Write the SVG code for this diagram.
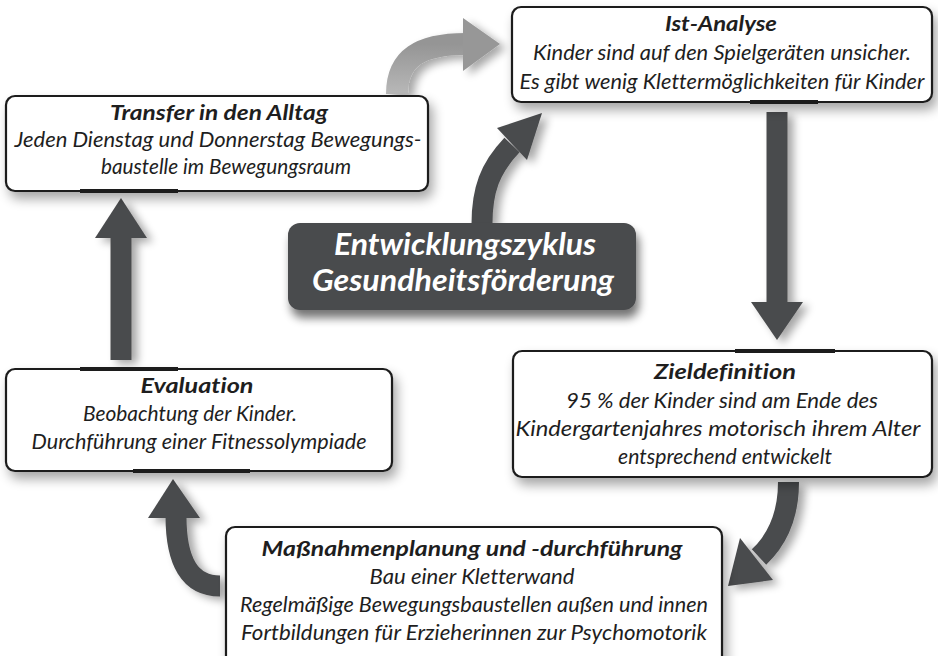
<svg xmlns="http://www.w3.org/2000/svg" width="938" height="656" viewBox="0 0 938 656">
<defs>
<style>
.box{fill:#ffffff;stroke:#1c1c1c;stroke-width:2.2}
.thick{fill:#1c1c1c}
.t{font-family:Lato,"Liberation Sans",sans-serif;font-style:italic;font-size:21px;fill:#1e1e1e;text-anchor:middle;font-variant-ligatures:none;font-feature-settings:"liga" 0,"clig" 0}
.h{font-weight:bold}
.c{font-family:Lato,"Liberation Sans",sans-serif;font-style:italic;font-weight:bold;font-size:30px;fill:#ffffff;text-anchor:middle;font-variant-ligatures:none;font-feature-settings:"liga" 0,"clig" 0}
.ah{fill:#4a4b4d}
.as{fill:none;stroke:#4a4b4d;stroke-width:21;stroke-linecap:butt}
</style>
<linearGradient id="gray" x1="0" y1="1" x2="0" y2="0">
<stop offset="0" stop-color="#b8b8b8"/>
<stop offset="1" stop-color="#959595"/>
</linearGradient>
<filter id="bsh" x="-10%" y="-20%" width="125%" height="150%">
<feGaussianBlur in="SourceAlpha" stdDeviation="6"/>
<feOffset dx="4" dy="7"/>
<feComponentTransfer><feFuncA type="linear" slope="0.35"/></feComponentTransfer>
<feMerge><feMergeNode/><feMergeNode in="SourceGraphic"/></feMerge>
</filter>
<filter id="ash" x="-40%" y="-20%" width="180%" height="150%">
<feGaussianBlur in="SourceAlpha" stdDeviation="4"/>
<feOffset dx="6" dy="4"/>
<feComponentTransfer><feFuncA type="linear" slope="0.35"/></feComponentTransfer>
<feMerge><feMergeNode/><feMergeNode in="SourceGraphic"/></feMerge>
</filter>
<filter id="csh" x="-10%" y="-20%" width="125%" height="160%">
<feGaussianBlur in="SourceAlpha" stdDeviation="5"/>
<feOffset dx="3" dy="8"/>
<feComponentTransfer><feFuncA type="linear" slope="0.55"/></feComponentTransfer>
<feMerge><feMergeNode/><feMergeNode in="SourceGraphic"/></feMerge>
</filter>
</defs>
<rect width="938" height="656" fill="#ffffff"/>

<g id="connectors">
  <g id="arrow-transfer-ist" filter="url(#ash)">
    <path d="M 397 94 C 397 58 420 44 466 44" fill="none" stroke="url(#gray)" stroke-width="22"/>
    <polygon points="463,18 463,71 500,44" fill="#979797"/>
  </g>
  <g id="arrow-center-ist" filter="url(#ash)">
    <path class="as" d="M 482 224 C 482 190 490 168 512 145"/>
    <polygon class="ah" points="497,128 527,160 542,113"/>
  </g>
  <g id="arrow-ist-ziel" filter="url(#ash)">
    <rect class="ah" x="766.5" y="112" width="21" height="192"/>
    <polygon class="ah" points="751,302 803,302 777,340"/>
  </g>
  <g id="arrow-ziel-mass" filter="url(#ash)">
    <path class="as" d="M 788.5 482 C 788.5 515 777 540 759 557"/>
    <polygon class="ah" points="740,538 773,580 728,586"/>
  </g>
  <g id="arrow-mass-eval" filter="url(#ash)">
    <path class="as" d="M 176 516 C 176 562 190 586 220 586"/>
    <polygon class="ah" points="148,518 200,518 173,479"/>
  </g>
  <g id="arrow-eval-transfer" filter="url(#ash)">
    <rect class="ah" x="110.5" y="236" width="21" height="124"/>
    <polygon class="ah" points="95,238 147,238 121,198"/>
  </g>
</g>

<g id="node-ist">
  <rect class="box" x="512" y="7" width="420" height="95" rx="9" filter="url(#bsh)"/>
  <rect class="thick" x="750" y="100" width="68" height="4"/>
  <text class="t h" x="721" y="31" textLength="112" lengthAdjust="spacingAndGlyphs">Ist-Analyse</text>
  <text class="t" x="722" y="60" textLength="378" lengthAdjust="spacingAndGlyphs">Kinder sind auf den Spielgeräten unsicher.</text>
  <text class="t" x="722" y="89" textLength="405" lengthAdjust="spacingAndGlyphs">Es gibt wenig Klettermöglichkeiten für Kinder</text>
</g>

<g id="node-transfer">
  <rect class="box" x="6" y="96" width="422" height="95" rx="9" filter="url(#bsh)"/>
  <rect class="thick" x="80" y="189" width="98" height="4"/>
  <text class="t h" x="219" y="120" textLength="218" lengthAdjust="spacingAndGlyphs">Transfer in den Alltag</text>
  <text class="t" x="218" y="147" textLength="407" lengthAdjust="spacingAndGlyphs">Jeden Dienstag und Donnerstag Bewegungs-</text>
  <text class="t" x="226" y="174" textLength="250" lengthAdjust="spacingAndGlyphs">baustelle im Bewegungsraum</text>
</g>

<g id="node-center">
  <rect x="288" y="223" width="348" height="87" rx="12" fill="#4a4b4d" filter="url(#csh)"/>
  <text class="c" x="465" y="255" textLength="262" lengthAdjust="spacingAndGlyphs">Entwicklungszyklus</text>
  <text class="c" x="463" y="291" textLength="302" lengthAdjust="spacingAndGlyphs">Gesundheitsförderung</text>
</g>

<g id="node-ziel">
  <rect class="box" x="513" y="351" width="419" height="126" rx="9" filter="url(#bsh)"/>
  <rect class="thick" x="735" y="349" width="100" height="4"/>
  <text class="t h" x="725" y="379" textLength="142" lengthAdjust="spacingAndGlyphs">Zieldefinition</text>
  <text class="t" x="722" y="408" textLength="312" lengthAdjust="spacingAndGlyphs">95 % der Kinder sind am Ende des</text>
  <text class="t" x="718" y="436" textLength="405" lengthAdjust="spacingAndGlyphs">Kindergartenjahres motorisch ihrem Alter</text>
  <text class="t" x="725" y="464" textLength="214" lengthAdjust="spacingAndGlyphs">entsprechend entwickelt</text>
</g>

<g id="node-eval">
  <rect class="box" x="6" y="369" width="386" height="102" rx="9" filter="url(#bsh)"/>
  <rect class="thick" x="80" y="367" width="98" height="4"/>
  <rect class="thick" x="133" y="469" width="117" height="4"/>
  <text class="t h" x="197" y="393" textLength="113" lengthAdjust="spacingAndGlyphs">Evaluation</text>
  <text class="t" x="190" y="421" textLength="214" lengthAdjust="spacingAndGlyphs">Beobachtung der Kinder.</text>
  <text class="t" x="199" y="449" textLength="335" lengthAdjust="spacingAndGlyphs">Durchführung einer Fitnessolympiade</text>
</g>

<g id="node-mass">
  <rect class="box" x="226" y="527" width="496" height="140" rx="9" filter="url(#bsh)"/>
  <text class="t h" x="472" y="556" textLength="421" lengthAdjust="spacingAndGlyphs">Maßnahmenplanung und -durchführung</text>
  <text class="t" x="472" y="584" textLength="205" lengthAdjust="spacingAndGlyphs">Bau einer Kletterwand</text>
  <text class="t" x="474" y="612" textLength="468" lengthAdjust="spacingAndGlyphs">Regelmäßige Bewegungsbaustellen außen und innen</text>
  <text class="t" x="474" y="640" textLength="466" lengthAdjust="spacingAndGlyphs">Fortbildungen für Erzieherinnen zur Psychomotorik</text>
</g>
</svg>
